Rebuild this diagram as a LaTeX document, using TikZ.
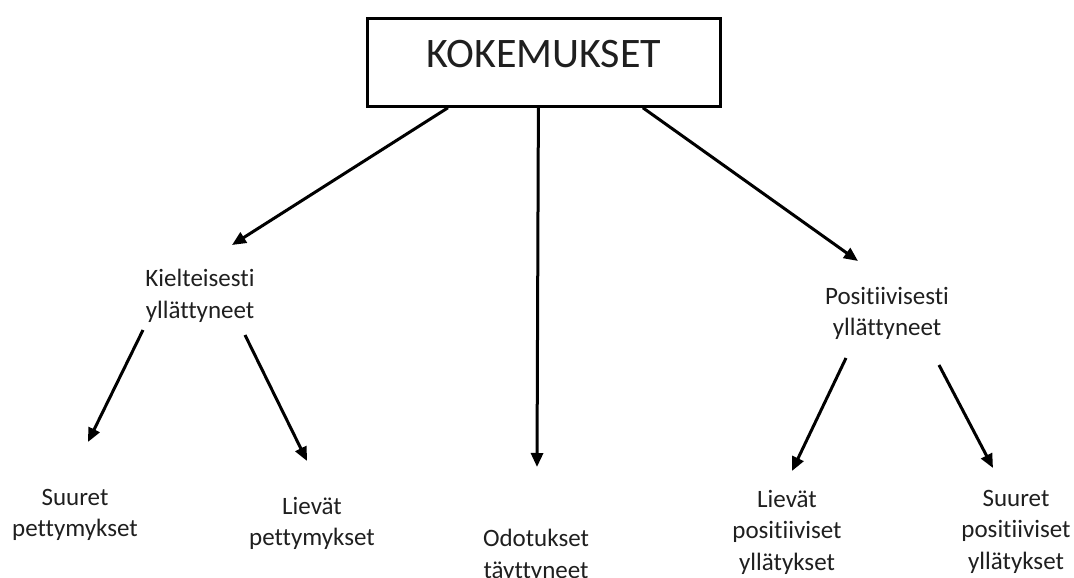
\documentclass[tikz,border=0pt]{standalone}
\usepackage{fontspec}
\setmainfont{Carlito}[Ligatures={NoCommon}]
\usetikzlibrary{arrows.meta}
\begin{document}
\begin{tikzpicture}[x=1pt,y=-1pt,
  lbl/.style={align=center,inner sep=0pt,anchor=north,font=\fontsize{25}{31.5}\selectfont,text=black!88},
  conn/.style={line width=3pt,-{Triangle[length=14pt,width=12pt]}}]
\useasboundingbox[fill=white] (0,0) rectangle (1074,578);
\node[draw,line width=2.8pt,anchor=north west,inner sep=0pt,minimum width=353pt,
  text height=49pt,text depth=39pt,font=\fontsize{42}{48}\selectfont,text=black!88]
  (top) at (366,17) {KOKEMUKSET};
\node[lbl] (kiel) at (200,269) {Kielteisesti\\yllättyneet};
\node[lbl] (posi) at (887,287) {Positiivisesti\\yllättyneet};
\node[lbl] (suup) at (75,489) {Suuret\\pettymykset};
\node[lbl] (liep) at (312,497) {Lievät\\pettymykset};
\node[lbl] (odot) at (536,529) {Odotukset\\täyttyneet};
\node[lbl] (liey) at (787,490) {Lievät\\positiiviset\\yllätykset};
\node[lbl] (suuy) at (1016,490) {Suuret\\positiiviset\\yllätykset};
% arrow end points
\coordinate (e1) at (232,245);
\coordinate (e2) at (537,467);
\coordinate (e3) at (858,261);
\coordinate (s4) at (143,330); \coordinate (e4) at (88,442);
\coordinate (s5) at (245,335); \coordinate (e5) at (307,461);
\coordinate (s6) at (846,358); \coordinate (e6) at (792,471);
\coordinate (s7) at (939,365); \coordinate (e7) at (993,468);
\draw[conn] ([xshift=-96pt]top.south) -- (e1);
\draw[conn] ([xshift=-5.5pt]top.south) -- (e2);
\draw[conn] ([xshift=99pt]top.south) -- (e3);
\draw[conn] (s4) -- (e4);
\draw[conn] (s5) -- (e5);
\draw[conn] (s6) -- (e6);
\draw[conn] (s7) -- (e7);
\end{tikzpicture}
\end{document}
